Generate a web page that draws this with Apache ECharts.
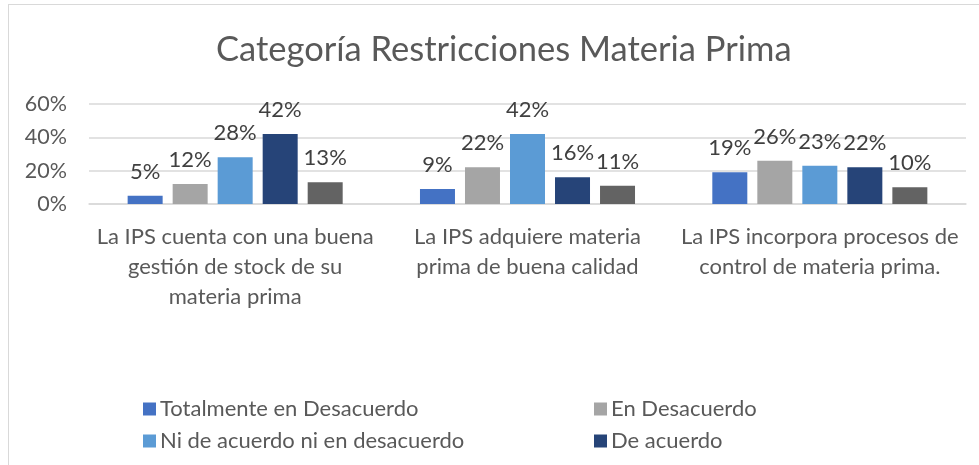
<!DOCTYPE html>
<html>
<head>
<meta charset="utf-8">
<script src="https://cdn.jsdelivr.net/npm/echarts@6/dist/echarts.min.js"></script>
<style>
  html, body { margin: 0; padding: 0; background: #fff; overflow: hidden; }
  #frame {
    position: absolute; left: 8px; top: 4px; width: 990px; height: 480px;
    border: 1px solid #d9d9d9; box-sizing: border-box;
  }
  #main { position: absolute; left: 0; top: 0; width: 979px; height: 465px; }
</style>
</head>
<body>
<div id="frame"></div>
<div id="main"></div>
<script>
// categories (line breaks as in the reference)
const categories = [
  "La IPS cuenta con una buena\ngestión de stock de su\nmateria prima",
  "La IPS adquiere materia\nprima de buena calidad",
  "La IPS incorpora procesos de\ncontrol de materia prima."
];
const seriesNames = [
  "Totalmente en Desacuerdo",
  "En Desacuerdo",
  "Ni de acuerdo ni en desacuerdo",
  "De acuerdo",
  "Totalmente de acuerdo"
];
// values in %
const totDesacuerdo = [5, 9, 19];
const enDesacuerdo = [12, 22, 26];
const niNi = [28, 42, 23];
const deAcuerdo = [42, 16, 22];
const totAcuerdo = [13, 11, 10];
const yTicks = [0, 20, 40, 60];

const colors = ["#4472C4", "#A5A5A5", "#5B9BD5", "#264478", "#636363"];
const values = [totDesacuerdo, enDesacuerdo, niNi, deAcuerdo, totAcuerdo];
const font = "Lato, 'Open Sans', sans-serif";

const myChart = echarts.init(document.getElementById("main"));
myChart.setOption({
  animation: false,
  textStyle: { fontFamily: font },
  title: {
    text: "Categoría Restricciones Materia Prima",
    left: 211,
    top: 27,
    textStyle: { fontFamily: font, fontSize: 34.5, fontWeight: "normal", color: "#595959" }
  },
  legend: {
    left: 143,
    top: 398,
    width: 900,
    padding: 0,
    itemWidth: 13,
    itemHeight: 13,
    itemGap: 10,
    icon: "rect",
    // the last entry falls below the visible frame in the reference
    data: seriesNames.slice(0, 4),
    textStyle: {
      fontFamily: font, fontSize: 22, color: "#595959",
      width: 424, lineHeight: 22, padding: [0, 0, 0, -1]
    }
  },
  grid: { left: 89, right: 13, top: 104, bottom: 261, containLabel: false },
  xAxis: {
    type: "category",
    data: categories,
    axisLine: { lineStyle: { color: "#d9d9d9", width: 1.5 } },
    axisTick: { show: false },
    axisLabel: {
      interval: 0, margin: 18, fontSize: 22, lineHeight: 30,
      color: "#595959", fontFamily: font, align: "center"
    }
  },
  yAxis: {
    type: "value",
    min: yTicks[0],
    max: yTicks[yTicks.length - 1],
    interval: 20,
    axisLine: { show: false },
    axisTick: { show: false },
    splitLine: { lineStyle: { color: "#d9d9d9", width: 1.5 } },
    axisLabel: {
      formatter: "{value}%", fontSize: 21.5, color: "#595959",
      fontFamily: font, margin: 22
    }
  },
  series: seriesNames.map((name, i) => ({
    name: name,
    type: "bar",
    data: values[i],
    barWidth: 35,
    barGap: "28.6%",
    barCategoryGap: "26.5%",
    itemStyle: { color: colors[i] },
    label: {
      show: true, position: "top", distance: 13,
      formatter: "{c}%", fontSize: 22, color: "#404040", fontFamily: font
    }
  }))
});
</script>
</body>
</html>
